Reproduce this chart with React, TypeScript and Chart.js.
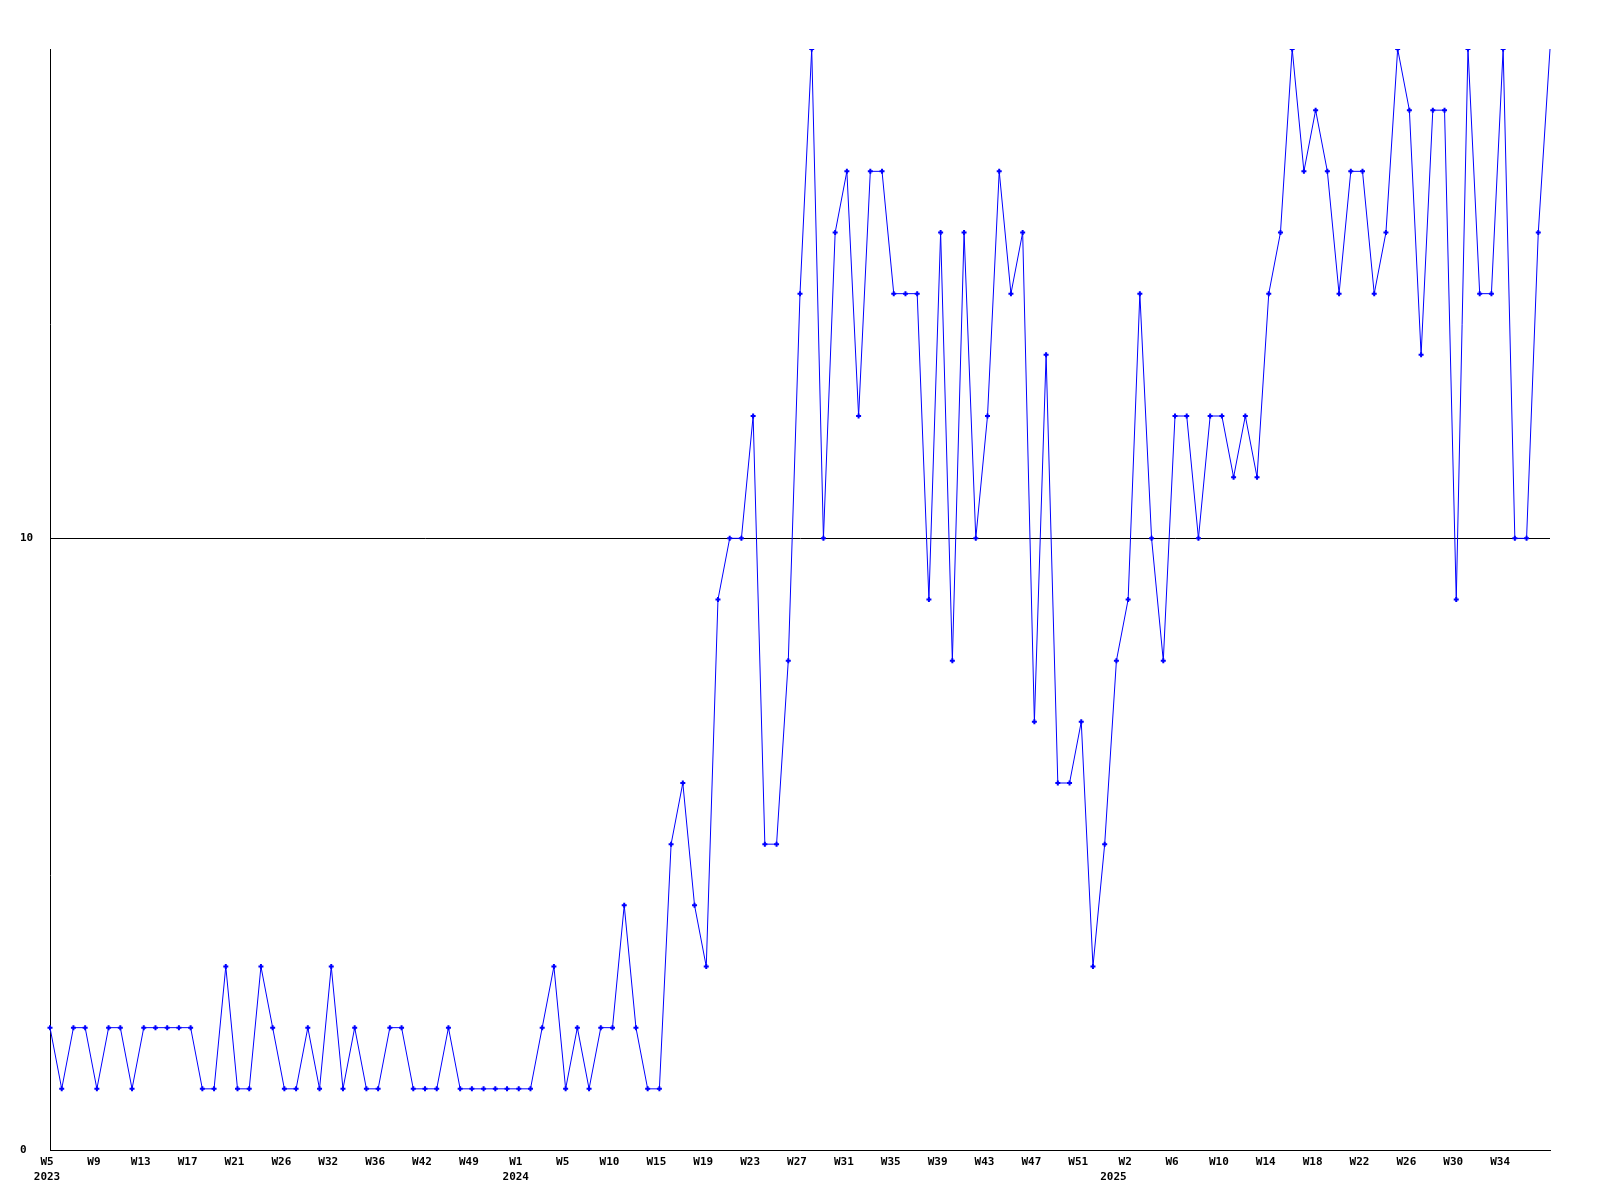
import React, { useEffect, useRef } from "react";
import { Chart, registerables } from "chart.js";

Chart.register(...registerables);

const startYear = 2023;

const weeks: string[] = [
  "W5", "W6", "W7", "W8", "W9", "W10", "W11", "W12", "W13", "W14",
  "W15", "W16", "W17", "W18", "W19", "W20", "W21", "W22", "W23", "W25",
  "W26", "W27", "W29", "W30", "W32", "W33", "W34", "W35", "W36", "W37",
  "W39", "W40", "W42", "W43", "W45", "W47", "W49", "W50", "W51", "W52",
  "W1", "W2", "W3", "W4", "W5", "W6", "W7", "W9", "W10", "W11",
  "W12", "W14", "W15", "W16", "W17", "W18", "W19", "W20", "W21", "W22",
  "W23", "W24", "W25", "W26", "W27", "W28", "W29", "W30", "W31", "W32",
  "W33", "W34", "W35", "W36", "W37", "W38", "W39", "W40", "W41", "W42",
  "W43", "W44", "W45", "W46", "W47", "W48", "W49", "W50", "W51", "W52",
  "W53", "W1", "W2", "W3", "W4", "W5", "W6", "W7", "W8", "W9",
  "W10", "W11", "W12", "W13", "W14", "W15", "W16", "W17", "W18", "W19",
  "W20", "W21", "W22", "W23", "W24", "W25", "W26", "W27", "W28", "W29",
  "W30", "W31", "W32", "W33", "W34", "W35", "W36", "W37", "W38",
];

const values: number[] = [
  2, 1, 2, 2, 1, 2, 2, 1, 2, 2,
  2, 2, 2, 1, 1, 3, 1, 1, 3, 2,
  1, 1, 2, 1, 3, 1, 2, 1, 1, 2,
  2, 1, 1, 1, 2, 1, 1, 1, 1, 1,
  1, 1, 2, 3, 1, 2, 1, 2, 2, 4,
  2, 1, 1, 5, 6, 4, 3, 9, 10, 10,
  12, 5, 5, 8, 14, 18, 10, 15, 16, 12,
  16, 16, 14, 14, 14, 9, 15, 8, 15, 10,
  12, 16, 14, 15, 7, 13, 6, 6, 7, 3,
  5, 8, 9, 14, 10, 8, 12, 12, 10, 12,
  12, 11, 12, 11, 14, 15, 18, 16, 17, 16,
  14, 16, 16, 14, 15, 18, 17, 13, 17, 17,
  9, 18, 14, 14, 18, 10, 10, 15, 18,
];

const yTicks: number[] = [0, 10];
const yMax = 18;
const labelEvery = 4;

// year label at the first week of each year
const yearAt: Record<number, string> = (() => {
  const r: Record<number, string> = {};
  let y = startYear;
  r[0] = String(y);
  for (let i = 1; i < weeks.length; i++) {
    const prev = parseInt(weeks[i - 1].slice(1), 10);
    const cur = parseInt(weeks[i].slice(1), 10);
    if (cur < prev) {
      y += 1;
      r[i] = String(y);
    }
  }
  return r;
})();

const FONT = "'DejaVu Sans Mono', 'Liberation Mono', monospace";

export default function App() {
  const ref = useRef<HTMLCanvasElement | null>(null);

  useEffect(() => {
    if (!ref.current) return;
    const last = weeks.length - 1;
    const chart = new Chart(ref.current, {
      type: "line",
      data: {
        labels: weeks,
        datasets: [
          {
            data: values,
            borderColor: "#0000ff",
            backgroundColor: "#0000ff",
            borderWidth: 1,
            pointStyle: "cross",
            pointRadius: (ctx: any) => (ctx.dataIndex === last ? 0 : 2.5),
            pointBorderWidth: 2,
            pointBorderColor: "#0000ff",
            pointBackgroundColor: "#0000ff",
            tension: 0,
            fill: false,
          },
        ],
      },
      options: {
        animation: false,
        responsive: false,
        devicePixelRatio: 1,
        layout: { padding: { left: 20, top: 49, right: 50, bottom: 0 } },
        plugins: {
          legend: { display: false },
          tooltip: { enabled: false },
          title: { display: false },
        },
        scales: {
          x: {
            type: "category",
            offset: false,
            grid: { display: true, drawOnChartArea: false, drawTicks: false },
            border: { display: true, color: "#000000", width: 1 },
            afterFit: (scale: any) => {
              scale.height = 50;
            },
            ticks: {
              autoSkip: false,
              maxRotation: 0,
              minRotation: 0,
              padding: 5,
              labelOffset: -3,
              color: "#000000",
              font: { family: FONT, size: 11, weight: "bold", lineHeight: "15px" },
              callback: (_v: any, index: number) => {
                const week = index % labelEvery === 0 && index < last ? weeks[index] : "";
                const yr = yearAt[index];
                if (yr) return [week, yr];
                return week ? week : null;
              },
            },
          },
          y: {
            min: 0,
            max: yMax,
            afterFit: (scale: any) => {
              scale.width = 30;
            },
            afterBuildTicks: (scale: any) => {
              scale.ticks = yTicks.map((v) => ({ value: v }));
            },
            grid: { display: true, color: "#000000", lineWidth: 1, drawTicks: false },
            border: { display: true, color: "#000000", width: 1 },
            ticks: {
              crossAlign: "far",
              padding: 0,
              color: "#000000",
              font: { family: FONT, size: 11, weight: "bold" },
              callback: (v: any) => String(v),
            },
          },
        },
      },
    });
    return () => chart.destroy();
  }, []);

  return (
    <div style={{ position: "absolute", left: 0, top: 0, width: 1600, height: 1200, background: "#ffffff" }}>
      <canvas ref={ref} width={1600} height={1200} style={{ width: 1600, height: 1200, display: "block" }} />
    </div>
  );
}
